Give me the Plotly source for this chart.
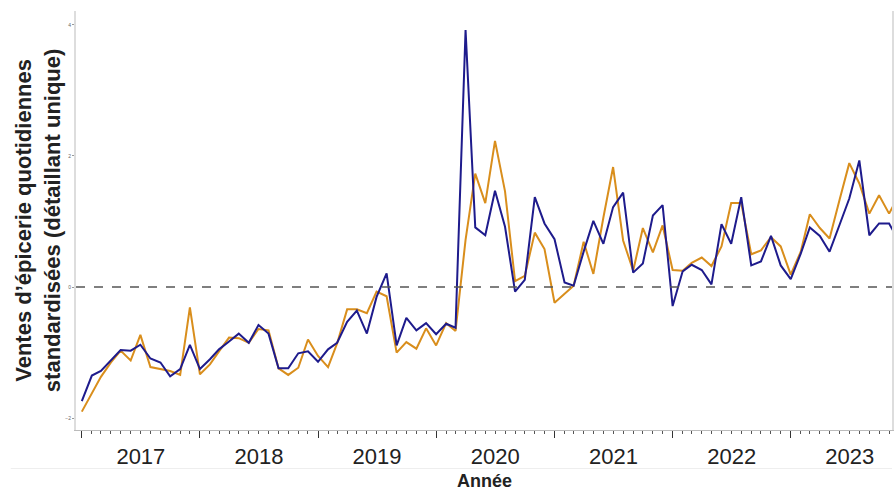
import pandas as pd
import plotly.graph_objects as go

# Monthly series starting January 2017
months = pd.date_range("2017-01-01", periods=84, freq="MS")

serie_bleue = [
    -1.74, -1.35, -1.28, -1.12, -0.96, -0.97, -0.88, -1.09, -1.15, -1.36, -1.25, -0.88,
    -1.25, -1.10, -0.95, -0.83, -0.71, -0.85, -0.58, -0.71, -1.24, -1.24, -1.01, -0.98,
    -1.14, -0.95, -0.85, -0.53, -0.36, -0.71, -0.15, 0.21, -0.89, -0.47, -0.66, -0.55,
    -0.72, -0.56, -0.62, 3.92, 0.91, 0.79, 1.47, 0.92, -0.07, 0.11, 1.37, 0.97,
    0.73, 0.07, 0.02, 0.54, 1.01, 0.66, 1.22, 1.44, 0.22, 0.36, 1.09, 1.25,
    -0.29, 0.24, 0.34, 0.26, 0.04, 0.96, 0.66, 1.37, 0.33, 0.39, 0.78, 0.33,
    0.12, 0.51, 0.91, 0.78, 0.54, 0.95, 1.35, 1.93, 0.79, 0.97, 0.97, 0.70,
]

serie_orange = [
    -1.90, -1.63, -1.37, -1.15, -0.97, -1.12, -0.73, -1.22, -1.25, -1.28, -1.34, -0.31,
    -1.33, -1.18, -0.98, -0.77, -0.78, -0.85, -0.64, -0.66, -1.24, -1.34, -1.23, -0.80,
    -1.05, -1.22, -0.86, -0.34, -0.34, -0.40, -0.07, -0.14, -1.00, -0.84, -0.94, -0.63,
    -0.89, -0.55, -0.67, 0.72, 1.73, 1.28, 2.23, 1.46, 0.09, 0.17, 0.83, 0.58,
    -0.24, -0.11, 0.02, 0.69, 0.20, 1.06, 1.83, 0.71, 0.25, 0.90, 0.53, 0.94,
    0.26, 0.25, 0.37, 0.45, 0.32, 0.62, 1.28, 1.28, 0.50, 0.56, 0.76, 0.62,
    0.19, 0.54, 1.11, 0.90, 0.74, 1.33, 1.89, 1.58, 1.12, 1.40, 1.12, 1.40,
]

y_ticks = [-2, 0, 2, 4]
y_title = "Ventes d’épicerie quotidiennes<br>standardisées (détaillant unique)"
x_title = "Année"

ORANGE = "#D98E1C"
NAVY = "#1E1B8C"

fig = go.Figure()
fig.add_trace(go.Scatter(x=months, y=serie_orange, mode="lines",
                         line=dict(color=ORANGE, width=2), showlegend=False))
fig.add_trace(go.Scatter(x=months, y=serie_bleue, mode="lines",
                         line=dict(color=NAVY, width=2), showlegend=False))

fig.add_hline(y=0, line=dict(color="#555555", width=1.5, dash="dash"))

# faint separator line under the year labels
fig.add_shape(type="line", xref="paper", yref="paper", x0=-0.08, x1=1.0,
              y0=-0.092, y1=-0.092, line=dict(color="#EEEEEE", width=1))

fig.add_annotation(text="<b>" + y_title + "</b>", xref="paper", yref="paper",
                   x=-0.047, y=0.5, xanchor="center", yanchor="middle",
                   textangle=-90, showarrow=False, align="center",
                   font=dict(family="Liberation Sans, Arial", size=22, color="#222222"))
fig.add_annotation(text="<b>" + x_title + "</b>", xref="paper", yref="paper",
                   x=0.5, y=-0.094, xanchor="center", yanchor="top",
                   showarrow=False,
                   font=dict(family="Liberation Sans, Arial", size=18, color="#222222"))

fig.update_layout(
    width=894, height=494,
    margin=dict(l=76, r=0, t=11, b=64),
    paper_bgcolor="white", plot_bgcolor="white",
    font=dict(family="Liberation Sans, Arial"),
)
fig.update_xaxes(
    range=["2016-12-14", "2023-11-10"],
    tick0="2017-01-01", dtick="M12", tickformat="%Y", ticklabelmode="period",
    ticks="outside", ticklen=7, tickcolor="#333333", tickwidth=1,
    minor=dict(dtick="M1", ticks="outside", ticklen=3, tickcolor="#555555", tickwidth=1),
    showgrid=False, zeroline=False,
    showline=True, linecolor="#BBBBBB", linewidth=1, mirror=False,
    tickfont=dict(family="Liberation Sans, Arial", size=22, color="#222222"),
)
fig.update_yaxes(
    range=[-2.18, 4.21], tickvals=y_ticks,
    ticks="outside", ticklen=2, tickcolor="#999999",
    tickfont=dict(size=5, color="#666666"),
    showgrid=False, zeroline=False,
    showline=True, linecolor="#DDDDDD", linewidth=2, mirror=True,
)
fig.write_html(
    "out.html",
    config={"displayModeBar": False},
    post_script="document.body.style.margin='0';document.body.style.overflow='hidden';",
)
